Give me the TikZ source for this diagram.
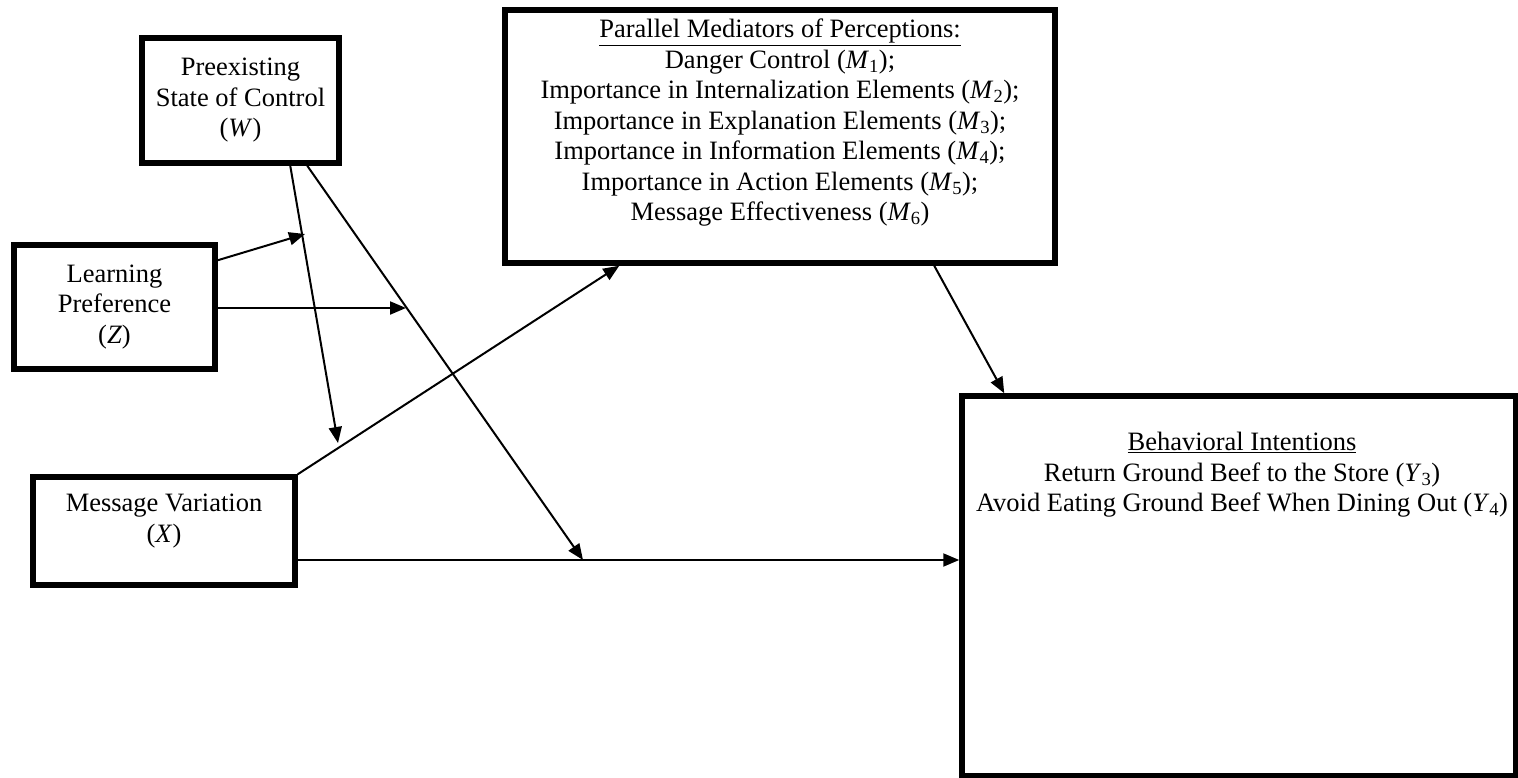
\documentclass[tikz,border=0pt]{standalone}
\usepackage{fontspec}
\setmainfont{Liberation Serif}
\usetikzlibrary{arrows.meta,calc}
\newcommand{\vsub}[2]{(\textit{#1}\textsubscript{#2})}
\begin{document}
\begin{tikzpicture}[x=1pt,y=-1pt,
  box/.style={draw, line width=5.5pt, rectangle, inner sep=0pt},
  txt/.style={align=center, inner sep=0pt, font=\fontsize{26.5}{30.5}\selectfont},
  link/.style={line width=2pt, -{Triangle[length=16pt,width=13pt]}}]
\useasboundingbox (0,0) rectangle (1518,778);

% boxes (centre, size)
\node[box, minimum width=197pt, minimum height=125pt, txt] (W) at (240.5,100.5)
  {Preexisting\\State of Control\\(\textit{W})};
\node[box, minimum width=201pt, minimum height=124pt, txt] (Z) at (114.5,307)
  {Learning\\Preference\\(\textit{Z})};
\node[box, minimum width=262pt, minimum height=108pt] (X) at (164,531) {};
\node[txt] (Xt) at (164,521) {Message Variation\\(\textit{X})};
\node[box, minimum width=550pt, minimum height=253pt] (M) at (780,136.5) {};
\node[txt] (Mt) at (780,123) {\underline{Parallel Mediators of Perceptions:}\\
  Danger Control \vsub{M}{1};\\
  Importance in Internalization Elements \vsub{M}{2};\\
  Importance in Explanation Elements \vsub{M}{3};\\
  Importance in Information Elements \vsub{M}{4};\\
  Importance in Action Elements \vsub{M}{5};\\
  Message Effectiveness \vsub{M}{6}};
\node[box, minimum width=554pt, minimum height=380pt] (Y) at (1239,586) {};
\node[txt] (Yt) at (1242,475) {\underline{Behavioral Intentions}\\
  Return Ground Beef to the Store \vsub{Y}{3}\\
  Avoid Eating Ground Beef When Dining Out \vsub{Y}{4}};

% points where moderating arrows meet the paths
\coordinate (xy) at ([yshift=-29pt]X.east);
\coordinate (wxm) at (338,443);
\coordinate (wxy) at (583,560);
\coordinate (zwm) at (305,234);
\coordinate (zwy) at (406,308);

% paths
\draw[link] (xy) -- (xy -| Y.west);
\draw[link] (X.north east) -- ([xshift=117pt]M.south west);
\draw[link] ([xshift=432pt]M.south west) -- ([xshift=45pt]Y.north west);
\draw[link] ([xshift=151pt]W.south west) -- (wxm);
\draw[link] ([xshift=168pt]W.south west) -- (wxy);
\draw[link] ([yshift=-18pt]Z.north east) -- (zwm);
\draw[link] (Z.east |- zwy) -- (zwy);
\end{tikzpicture}
\end{document}
